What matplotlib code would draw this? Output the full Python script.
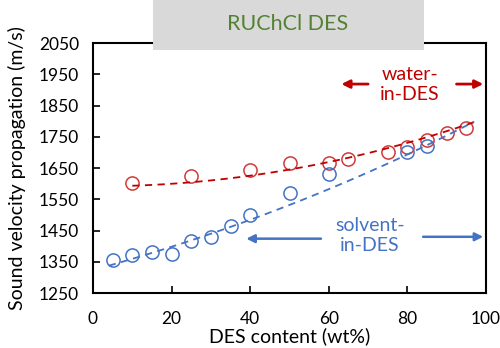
import numpy as np
import matplotlib.pyplot as plt
from matplotlib.patches import Rectangle

plt.rcParams['font.family'] = ['Lato', 'DejaVu Sans']

# Sound velocity vs DES content (measured)
wd_x = [10, 25, 40, 50, 60, 65, 75, 80, 85, 90, 95]
wd_y = [1601, 1625, 1644, 1665, 1667, 1678, 1702, 1718, 1740, 1761, 1777]
sd_x = [5, 10, 15, 20, 25, 30, 35, 40, 50, 60, 80, 85]
sd_y = [1355, 1371, 1380, 1374, 1416, 1430, 1464, 1499, 1569, 1631, 1700, 1722]

# trend line readings
wd_trend_x = [10, 25, 40, 48, 65, 80, 97]
wd_trend_y = [1588, 1609, 1633, 1643, 1676, 1724, 1803]
sd_trend_x = [4, 20, 40, 50, 60, 71, 80, 97]
sd_trend_y = [1340, 1393, 1484, 1530, 1595, 1644, 1680, 1803]

red = '#c00000'
blue = '#4472c4'

fig = plt.figure(figsize=(5, 3.48), dpi=100)
ax = fig.add_axes([0.186, 0.158, 0.786, 0.718])

ax.plot(wd_x, wd_y, 'o', mfc='none', mec='#d03a3a', ms=9.5, mew=1.1)
ax.plot(sd_x, sd_y, 'o', mfc='none', mec=blue, ms=9.5, mew=1.1)

# smooth dashed trend lines
p_red = np.polyfit(wd_trend_x, wd_trend_y, 2)
xr = np.linspace(min(wd_trend_x), max(wd_trend_x), 100)
ax.plot(xr, np.polyval(p_red, xr), color=red, lw=1.3, dashes=(4, 3))
p_blue = np.polyfit(sd_trend_x, sd_trend_y, 3)
xb = np.linspace(min(sd_trend_x), max(sd_trend_x), 100)
ax.plot(xb, np.polyval(p_blue, xb), color=blue, lw=1.3, dashes=(4, 3))

ax.set_xlim(0, 100)
ax.set_ylim(1250, 2050)
ax.set_xticks(range(0, 101, 20))
ax.set_yticks(range(1250, 2051, 100))
ax.tick_params(axis='both', direction='in', labelsize=12.5, length=5, width=1.2)
ax.tick_params(axis='x', pad=13)
ax.tick_params(axis='y', pad=10)
for s in ax.spines.values():
    s.set_linewidth(1.5)
ax.set_xlabel('DES content (wt%)', fontsize=14, labelpad=0)
ax.set_ylabel('Sound velocity propagation (m/s)', fontsize=14, labelpad=9)

# region annotations
arrow_red = dict(arrowstyle='-|>', color=red, lw=2, mutation_scale=12,
                 shrinkA=0, shrinkB=0)
arrow_blue = dict(arrowstyle='-|>', color=blue, lw=1.8, mutation_scale=12,
                  shrinkA=0, shrinkB=0)
ax.text(80.7, 1917, 'water-\nin-DES', color=red, fontsize=14, ha='center', va='center',
        linespacing=1.2)
ax.annotate('', xy=(63.2, 1919), xytext=(70, 1919), arrowprops=arrow_red)
ax.annotate('', xy=(99.3, 1919), xytext=(92.5, 1919), arrowprops=arrow_red)
ax.text(70.5, 1435, 'solvent-\nin-DES', color=blue, fontsize=14, ha='center', va='center',
        linespacing=1.2)
ax.annotate('', xy=(39, 1424), xytext=(58, 1424), arrowprops=arrow_blue)
ax.annotate('', xy=(99.3, 1430), xytext=(84, 1430), arrowprops=arrow_blue)

# title box
fig.patches.append(Rectangle((153 / 500, 1 - 50 / 348), 271 / 500, 50 / 348,
                             transform=fig.transFigure, facecolor='#d9d9d9',
                             edgecolor='none', zorder=5))
fig.text(288 / 500, 1 - 24 / 348, 'RUChCl DES', color='#548235', fontsize=15.5,
         ha='center', va='center', zorder=6)

fig.savefig('out.png', dpi=100)
